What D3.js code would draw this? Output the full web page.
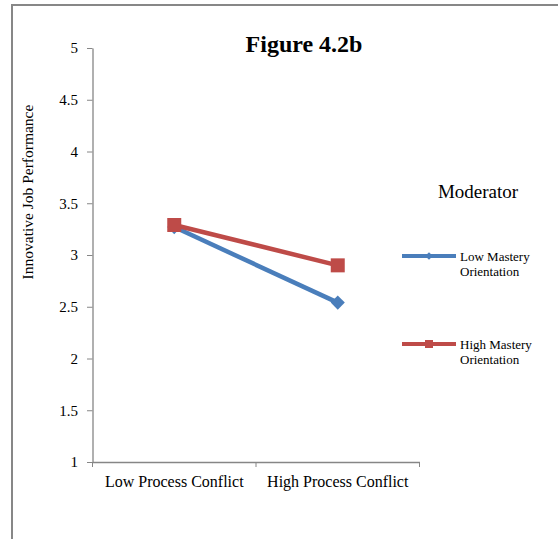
<!DOCTYPE html>
<html><head><meta charset="utf-8">
<script src="https://cdn.jsdelivr.net/npm/d3@7"></script>
<style>body{margin:0;background:#fff}svg{display:block}</style>
</head><body>
<script>
const categories = ["Low Process Conflict", "High Process Conflict"];
const seriesNames = ["Low Mastery Orientation", "High Mastery Orientation"];
const lowMastery = [3.27, 2.54];
const highMastery = [3.29, 2.90];
const yTicks = [1, 1.5, 2, 2.5, 3, 3.5, 4, 4.5, 5];
const yTickLabels = ["1", "1.5", "2", "2.5", "3", "3.5", "4", "4.5", "5"];

const W = 558, H = 539;
const FONT = "'Liberation Serif', 'Times New Roman', serif";
const svg = d3.select("body").append("svg").attr("width", W).attr("height", H)
  .style("font-family", FONT);

svg.append("rect").attr("x", 12).attr("y", 5).attr("width", W).attr("height", H)
  .attr("fill", "#fff").attr("stroke", "#878787").attr("stroke-width", 2);

const x0 = 92.5, x1 = 419.5, yTop = 48, yBot = 462;
const x = d3.scaleBand().domain(categories).range([x0, x1]);
const y = d3.scaleLinear().domain([1, 5]).range([yBot, yTop]);

// Y axis
const yAxis = d3.axisLeft(y).tickValues(yTicks).tickFormat((d, i) => yTickLabels[i]).tickSize(5.5).tickSizeOuter(0);
const gy = svg.append("g").attr("transform", `translate(${x0},0)`).call(yAxis);
gy.select(".domain").attr("stroke", "#868686").attr("stroke-width", 1.3);
gy.selectAll(".tick line").attr("stroke", "#868686");
gy.selectAll("text").attr("font-size", 15).attr("fill", "#000").attr("font-family", FONT).attr("x", -14.5);

// X axis
const xAxis = d3.axisBottom(x).tickSize(0);
const gx = svg.append("g").attr("transform", `translate(0,${yBot})`).call(xAxis);
gx.select(".domain").attr("stroke", "#868686").attr("stroke-width", 1.3);
gx.selectAll("text").attr("font-size", 16).attr("fill", "#000").attr("font-family", FONT)
  .attr("dy", null).attr("y", 25);
const bounds = [x0, x(categories[1]), x1];
svg.append("g").selectAll("line").data(bounds).join("line")
  .attr("x1", d => d).attr("x2", d => d).attr("y1", yBot).attr("y2", yBot + 5)
  .attr("stroke", "#868686").attr("stroke-width", 1);

// Y axis title
svg.append("text").attr("transform", `translate(33,192) rotate(-90)`)
  .attr("text-anchor", "middle").attr("font-size", 15.5).text("Innovative Job Performance");

// Title
svg.append("text").attr("x", 304).attr("y", 51.5).attr("text-anchor", "middle")
  .attr("font-size", 24).attr("font-weight", "bold").text("Figure 4.2b");

const cx = c => x(c) + x.bandwidth() / 2;
const line = d3.line().x((d, i) => cx(categories[i])).y(d => y(d));

const blue = "#4a7ebb", red = "#be4b48";
svg.append("path").datum(lowMastery).attr("d", line).attr("fill", "none")
  .attr("stroke", blue).attr("stroke-width", 4.5);
svg.append("g").selectAll("path").data(lowMastery).join("path")
  .attr("d", d3.symbol().type(d3.symbolSquare).size(100))
  .attr("transform", (d, i) => `translate(${cx(categories[i])},${y(d)}) rotate(45)`)
  .attr("fill", blue);
svg.append("path").datum(highMastery).attr("d", line).attr("fill", "none")
  .attr("stroke", red).attr("stroke-width", 4.5);
svg.append("g").selectAll("path").data(highMastery).join("path")
  .attr("d", d3.symbol().type(d3.symbolSquare).size(196))
  .attr("transform", (d, i) => `translate(${cx(categories[i])},${y(d)})`)
  .attr("fill", red);

// Legend
svg.append("text").attr("x", 478).attr("y", 198).attr("text-anchor", "middle")
  .attr("font-size", 19).text("Moderator");
const legY = [256, 344];
const colors = [blue, red];
seriesNames.forEach((name, i) => {
  const g = svg.append("g").attr("transform", `translate(402,${legY[i]})`);
  g.append("line").attr("x1", 0).attr("x2", 54).attr("y1", 0).attr("y2", 0)
    .attr("stroke", colors[i]).attr("stroke-width", 4);
  g.append("path").attr("d", d3.symbol().type(d3.symbolSquare).size(i === 0 ? 30 : 64))
    .attr("transform", `translate(27,0)${i === 0 ? " rotate(45)" : ""}`).attr("fill", colors[i]);
  const words = name.split(" ");
  const t = g.append("text").attr("x", 58).attr("y", 5).attr("font-size", 13);
  t.append("tspan").attr("x", 58).text(words.slice(0, 2).join(" "));
  t.append("tspan").attr("x", 58).attr("dy", 14.5).text(words.slice(2).join(" "));
});
</script>
</body></html>
